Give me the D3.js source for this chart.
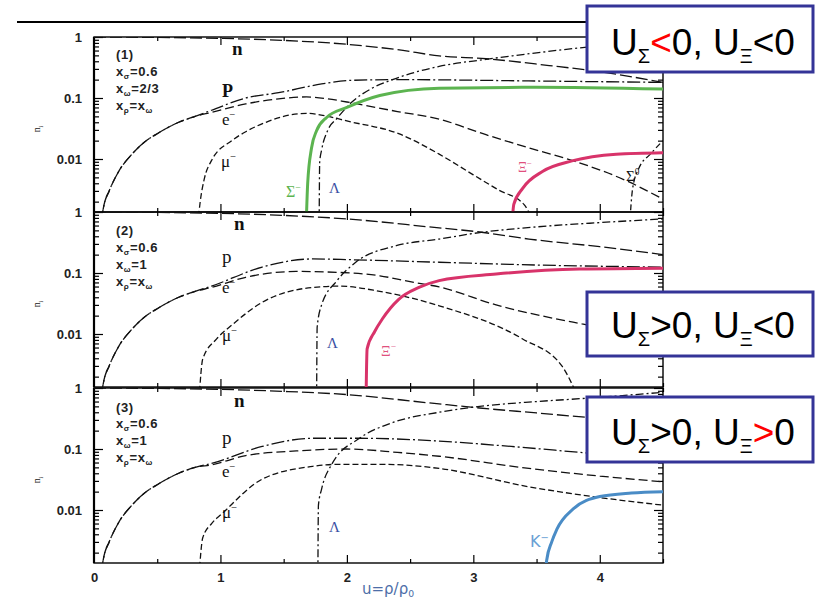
<!DOCTYPE html>
<html>
<head>
<meta charset="utf-8">
<script src="https://cdn.jsdelivr.net/npm/d3@7"></script>
<style>
  html, body { margin: 0; padding: 0; background: #fff; }
  svg { display: block; }
</style>
</head>
<body>
<svg id="chart" width="816" height="601"></svg>
<script>
// ---------- axis values ----------
const uTicks = [0, 1, 2, 3, 4];
const uHalfTicks = [0.5, 1.5, 2.5, 3.5, 4.5];
const yTickLabels = [1, 0.1, 0.01];
const uDomain = [0, 4.5];

// ---------- particle fractions n_i(u), panel (1): U_Sigma<0, U_Xi<0 ----------
const n1   = [[0,1],[0.5,0.985],[1.0,0.95],[1.5,0.88],[2.0,0.76],[2.4,0.62],[2.73,0.49],[3.1,0.44],[3.6,0.34],[4.0,0.27],[4.5,0.18]];
const p1   = [[0.055,0.0009],[0.08,0.0018],[0.12,0.003],[0.2,0.0065],[0.3,0.012],[0.4,0.019],[0.5,0.026],[0.67,0.04],[0.8,0.05],[0.93,0.063],[1.2,0.1],[1.46,0.122],[1.8,0.17],[2.04,0.195],[2.4,0.2],[3.5,0.19],[4.5,0.18]];
const e1   = [[0.055,0.0009],[0.08,0.0018],[0.12,0.003],[0.2,0.0065],[0.3,0.012],[0.4,0.019],[0.5,0.026],[0.67,0.04],[0.8,0.05],[0.93,0.058],[1.2,0.08],[1.46,0.097],[1.68,0.104],[1.85,0.097],[2.0,0.086],[2.4,0.06],[2.73,0.045],[3.1,0.025],[3.5,0.014],[3.8,0.0092],[4.2,0.0045],[4.5,0.0022]];
const mu1  = [[0.82,0.0008],[0.84,0.002],[0.87,0.0045],[0.93,0.0095],[1.09,0.02],[1.2,0.028],[1.36,0.04],[1.5,0.05],[1.68,0.056],[1.85,0.05],[2.0,0.042],[2.41,0.026],[2.73,0.012],[3.0,0.0055],[3.2,0.0031],[3.4,0.0018],[3.48,0.0009]];
const lam1 = [[1.78,0.0005],[1.785,0.009],[1.8,0.014],[1.85,0.03],[1.92,0.046],[2.04,0.086],[2.2,0.145],[2.36,0.2],[2.73,0.33],[3.1,0.43],[3.5,0.55],[3.9,0.68],[4.5,0.8]];
const sigm1 = [[1.675,0.0005],[1.69,0.004],[1.72,0.015],[1.76,0.029],[1.84,0.048],[2.0,0.07],[2.26,0.11],[2.73,0.145],[3.5,0.15],[4.5,0.14]];
const xim1 = [[3.3,0.0005],[3.32,0.0018],[3.39,0.0033],[3.55,0.0063],[3.78,0.0093],[4.13,0.012],[4.5,0.0127]];
const sig01 = [[4.23,0.0005],[4.26,0.0033],[4.31,0.0071],[4.4,0.012],[4.5,0.02]];

// ---------- panel (2): U_Sigma>0, U_Xi<0 ----------
const n2   = [[0,1],[0.5,0.985],[1.0,0.95],[1.5,0.88],[2.0,0.77],[2.65,0.57],[3.05,0.47],[3.44,0.36],[4.0,0.27],[4.5,0.2]];
const p2   = [[0.055,0.0009],[0.08,0.0018],[0.12,0.003],[0.2,0.0065],[0.3,0.012],[0.4,0.019],[0.5,0.026],[0.67,0.04],[0.8,0.05],[0.93,0.061],[1.33,0.125],[1.73,0.17],[2.04,0.165],[2.73,0.15],[3.5,0.135],[4.5,0.125]];
const e2   = [[0.055,0.0009],[0.08,0.0018],[0.12,0.003],[0.2,0.0065],[0.3,0.012],[0.4,0.019],[0.5,0.026],[0.67,0.04],[0.8,0.05],[0.93,0.058],[1.2,0.085],[1.6,0.106],[1.84,0.104],[2.26,0.09],[2.5,0.072],[2.73,0.059],[3.18,0.03],[3.86,0.0146],[4.5,0.0085]];
const mu2  = [[0.83,0.0008],[0.86,0.0039],[0.97,0.0083],[1.09,0.014],[1.33,0.033],[1.73,0.058],[1.94,0.061],[2.26,0.05],[2.73,0.029],[3.39,0.0083],[3.7,0.003],[3.83,0.0009]];
const lam2 = [[1.76,0.0005],[1.765,0.013],[1.8,0.03],[1.92,0.074],[2.07,0.15],[2.39,0.28],[2.73,0.36],[3.05,0.46],[3.5,0.57],[4.0,0.67],[4.5,0.77]];
const xim2 = [[2.15,0.0005],[2.16,0.0057],[2.22,0.011],[2.28,0.0176],[2.41,0.037],[2.57,0.058],[2.73,0.075],[3.18,0.096],[3.84,0.116],[4.5,0.12]];

// ---------- panel (3): U_Sigma>0, U_Xi>0 ----------
const n3   = [[0,1],[0.5,0.985],[1.0,0.95],[1.5,0.88],[2.0,0.78],[2.65,0.57],[3.05,0.47],[3.5,0.39],[3.9,0.33],[4.5,0.27]];
const p3   = [[0.055,0.0009],[0.08,0.0018],[0.12,0.003],[0.2,0.0065],[0.3,0.012],[0.4,0.019],[0.5,0.026],[0.67,0.04],[0.8,0.05],[0.93,0.058],[1.33,0.11],[1.73,0.15],[2.1,0.15],[2.73,0.135],[3.3,0.11],[3.9,0.086],[4.5,0.068]];
const e3   = [[0.055,0.0009],[0.08,0.0018],[0.12,0.003],[0.2,0.0065],[0.3,0.012],[0.4,0.019],[0.5,0.026],[0.67,0.04],[0.8,0.05],[0.93,0.055],[1.2,0.078],[1.6,0.093],[2.0,0.1],[2.4,0.088],[2.73,0.076],[3.44,0.048],[4.0,0.036],[4.5,0.029]];
const mu3  = [[0.83,0.0008],[0.86,0.0035],[0.93,0.006],[1.01,0.0086],[1.33,0.032],[1.73,0.052],[1.92,0.056],[2.3,0.056],[2.73,0.048],[3.44,0.024],[4.0,0.016],[4.5,0.012]];
const lam3 = [[1.77,0.0005],[1.775,0.012],[1.8,0.022],[1.88,0.056],[2.1,0.15],[2.36,0.27],[2.73,0.4],[3.05,0.5],[3.5,0.6],[3.9,0.68],[4.5,0.85]];
const km3  = [[3.56,0.0005],[3.58,0.0015],[3.62,0.003],[3.66,0.0048],[3.79,0.0104],[4.0,0.0166],[4.25,0.019],[4.5,0.02]];

// ---------- coupling ratios written in each panel ----------
const params1 = [[["(1)",0]], [["x",0],["σ",1],["=0.6",0]], [["x",0],["ω",1],["=2/3",0]], [["x",0],["ρ",1],["=x",0],["ω",1]]];
const params2 = [[["(2)",0]], [["x",0],["σ",1],["=0.6",0]], [["x",0],["ω",1],["=1",0]],   [["x",0],["ρ",1],["=x",0],["ω",1]]];
const params3 = [[["(3)",0]], [["x",0],["σ",1],["=0.6",0]], [["x",0],["ω",1],["=1",0]],   [["x",0],["ρ",1],["=x",0],["ω",1]]];

// ---------- potential-sign boxes ----------
const box1 = [["U",0],["Σ",1],["<",2],["0, U",0],["Ξ",1],["<0",0]];
const box2 = [["U",0],["Σ",1],[">",0],["0, U",0],["Ξ",1],["<0",0]];
const box3 = [["U",0],["Σ",1],[">",0],["0, U",0],["Ξ",1],[">",2],["0",0]];

// ---------- styles ----------
const BLACK = "#111";
const GREEN = "#5cb450";
const CRIMSON = "#d8336a";
const BLUE = "#4a8cc6";
const LAMBDA_BLUE = "#3a4fa3";
const BOX_BLUE = "#343497";

const dashN = "12,4", dashP = "13,3,2,3", dashE = "9,4", dashMu = "6,3", dashLam = "8,3,2,3", dashS0 = "6,3,2,3";

const panels = [
  { top: 37, params: params1, paramY: [59, 76, 93, 110],
    curves: [
      {d: n1, dash: dashN}, {d: p1, dash: dashP}, {d: e1, dash: dashE}, {d: mu1, dash: dashMu},
      {d: lam1, dash: dashLam}, {d: sig01, dash: dashS0},
      {d: sigm1, color: GREEN, w: 3}, {d: xim1, color: CRIMSON, w: 3}
    ],
    labels: [
      {t: [["n",0]], x: 232, y: 55, size: 19, bold: true},
      {t: [["P",0]], x: 222, y: 97, size: 18, bold: true},
      {t: [["e",0],["−",2]], x: 222, y: 125, size: 17},
      {t: [["μ",0],["−",2]], x: 221, y: 167, size: 17},
      {t: [["Σ",0],["−",2]], x: 286, y: 197, size: 16, color: GREEN},
      {t: [["Λ",0]], x: 329, y: 193, size: 15, color: LAMBDA_BLUE},
      {t: [["Ξ",0],["−",2]], x: 518, y: 172, size: 14, color: "#e0507e"},
      {t: [["Σ",0],["0",2]], x: 626, y: 181, size: 15}
    ]},
  { top: 212, params: params2, paramY: [235, 252, 269, 286],
    curves: [
      {d: n2, dash: dashN}, {d: p2, dash: dashP}, {d: e2, dash: dashE}, {d: mu2, dash: dashMu},
      {d: lam2, dash: dashLam},
      {d: xim2, color: CRIMSON, w: 3}
    ],
    labels: [
      {t: [["n",0]], x: 234, y: 230, size: 19, bold: true},
      {t: [["p",0]], x: 222, y: 263, size: 19},
      {t: [["e",0],["−",2]], x: 222, y: 293, size: 17},
      {t: [["μ",0],["−",2]], x: 222, y: 341, size: 17},
      {t: [["Λ",0]], x: 327, y: 348, size: 15, color: LAMBDA_BLUE},
      {t: [["Ξ",0],["−",2]], x: 381, y: 356, size: 15, color: "#e0507e"}
    ]},
  { top: 388, params: params3, paramY: [412, 428, 445, 462],
    curves: [
      {d: n3, dash: dashN}, {d: p3, dash: dashP}, {d: e3, dash: dashE}, {d: mu3, dash: dashMu},
      {d: lam3, dash: dashLam},
      {d: km3, color: BLUE, w: 3}
    ],
    labels: [
      {t: [["n",0]], x: 234, y: 407, size: 19, bold: true},
      {t: [["p",0]], x: 222, y: 444, size: 19},
      {t: [["e",0],["−",2]], x: 222, y: 477, size: 17},
      {t: [["μ",0],["−",2]], x: 222, y: 518, size: 17},
      {t: [["Λ",0]], x: 329, y: 532, size: 15, color: LAMBDA_BLUE},
      {t: [["K",0],["−",2]], x: 530, y: 547, size: 16, color: "#6a9fd4", sans: true}
    ]}
];

const boxes = [
  {parts: box1, y0: 6,   y1: 72,  base: 55},
  {parts: box2, y0: 292, y1: 356, base: 338},
  {parts: box3, y0: 397, y1: 462, base: 445}
];

// ---------- drawing ----------
const svg = d3.select("#chart");
const X0 = 94, X1 = 663, PANEL_H = 175;
const x = d3.scaleLinear().domain(uDomain).range([X0, X1]);
const vMin = Math.pow(10, -PANEL_H / 61);

// rule across the top of the page
svg.append("line").attr("x1", 17).attr("x2", 600).attr("y1", 22).attr("y2", 22)
  .attr("stroke", "#000").attr("stroke-width", 2);

function addRuns(textSel, runs, size, supShift) {
  let shift = 0;
  runs.forEach(([s, kind]) => {
    const ts = textSel.append("tspan").text(s);
    let target = 0;
    if (kind === 1) { target = supShift.sub; ts.attr("font-size", size * 0.62); }
    else if (kind === 2) { target = -supShift.sup; ts.attr("font-size", size * 0.62); }
    else { ts.attr("font-size", size); }
    ts.attr("dy", target - shift);
    shift = target;
  });
}

panels.forEach((P, i) => {
  const top = P.top, bottom = top + PANEL_H;
  const y = d3.scaleLog().domain([vMin, 1]).range([bottom, top]);
  const g = svg.append("g");

  const clipId = "clip" + i;
  svg.append("defs").append("clipPath").attr("id", clipId)
    .append("rect").attr("x", X0).attr("y", top).attr("width", X1 - X0).attr("height", PANEL_H);

  // log ticks on left and right edges (inward)
  const minor = [];
  [1, 0.1, 0.01, 0.001].forEach(dec => { for (let m = 2; m <= 9; m++) { const v = m * dec; if (v >= vMin && v < 1) minor.push(v); } });
  const major = yTickLabels;

  const tickStyle = sel => { sel.select(".domain").remove(); sel.selectAll("line").attr("stroke", "#000").attr("stroke-width", 1.2); sel.selectAll("text").remove(); };
  g.append("g").attr("transform", `translate(${X0},0)`).call(d3.axisRight(y).tickValues(major).tickSize(9)).call(tickStyle);
  g.append("g").attr("transform", `translate(${X0},0)`).call(d3.axisRight(y).tickValues(minor).tickSize(5)).call(tickStyle);
  g.append("g").attr("transform", `translate(${X1},0)`).call(d3.axisLeft(y).tickValues(major).tickSize(9)).call(tickStyle);
  g.append("g").attr("transform", `translate(${X1},0)`).call(d3.axisLeft(y).tickValues(minor).tickSize(5)).call(tickStyle);
  // density ticks on top and bottom edges (inward)
  g.append("g").attr("transform", `translate(0,${top})`).call(d3.axisBottom(x).tickValues(uTicks.slice(1)).tickSize(8)).call(tickStyle);
  g.append("g").attr("transform", `translate(0,${top})`).call(d3.axisBottom(x).tickValues(uHalfTicks).tickSize(4)).call(tickStyle);
  g.append("g").attr("transform", `translate(0,${bottom})`).call(d3.axisTop(x).tickValues(uTicks.slice(1)).tickSize(8)).call(tickStyle);
  g.append("g").attr("transform", `translate(0,${bottom})`).call(d3.axisTop(x).tickValues(uHalfTicks).tickSize(4)).call(tickStyle);

  // y tick labels
  const lab = g.append("g").attr("transform", `translate(${X0},0)`)
    .call(d3.axisLeft(y).tickValues(major).tickSize(0).tickPadding(12).tickFormat(d3.format("~g")));
  lab.select(".domain").remove();
  lab.selectAll("text").attr("font-family", "Liberation Sans, Arial, sans-serif")
    .attr("font-size", 13).attr("font-weight", "bold").attr("fill", "#222");

  // frame
  g.append("rect").attr("x", X0).attr("y", top).attr("width", X1 - X0).attr("height", PANEL_H)
    .attr("fill", "none").attr("stroke", "#000").attr("stroke-width", 1.4);
  g.append("line").attr("x1", X0).attr("x2", X0).attr("y1", top).attr("y2", bottom)
    .attr("stroke", "#000").attr("stroke-width", 2.2);

  // y-axis title n_i
  const yt = g.append("text").attr("transform", `translate(${40},${top + 92}) rotate(-90)`)
    .attr("text-anchor", "middle").attr("font-family", "Liberation Serif, serif").attr("fill", "#222");
  addRuns(yt, [["n",0],["i",1]], 10, {sub: 3, sup: 4});

  // curves
  const line = d3.line().x(d => x(d[0])).y(d => y(Math.max(d[1], 1e-5))).curve(d3.curveMonotoneX);
  const cg = g.append("g").attr("clip-path", `url(#${clipId})`);
  P.curves.forEach(c => {
    cg.append("path").attr("d", line(c.d)).attr("fill", "none")
      .attr("stroke", c.color || BLACK).attr("stroke-width", c.w || 1.3)
      .attr("stroke-dasharray", c.dash || null).attr("stroke-linecap", c.color ? "round" : "butt");
  });

  // coupling ratios
  P.params.forEach((runs, k) => {
    const t = g.append("text").attr("x", 116).attr("y", P.paramY[k])
      .attr("font-family", "Liberation Sans, Arial, sans-serif").attr("font-weight", "bold")
      .attr("letter-spacing", 0.6).attr("fill", "#222");
    addRuns(t, runs, 13, {sub: 3, sup: 5});
  });

  // particle labels
  P.labels.forEach(L => {
    const t = g.append("text").attr("x", L.x).attr("y", L.y)
      .attr("font-family", L.sans ? "DejaVu Sans, sans-serif" : "Liberation Serif, Times New Roman, serif")
      .attr("font-weight", L.bold ? "bold" : "normal").attr("fill", L.color || BLACK);
    addRuns(t, L.t, L.size, {sub: 3, sup: L.size * 0.4});
  });

  // density labels under the last panel
  if (i === panels.length - 1) {
    const xa = g.append("g").attr("transform", `translate(0,${bottom})`)
      .call(d3.axisBottom(x).tickValues(uTicks).tickSize(0).tickPadding(10).tickFormat(d3.format("d")));
    xa.select(".domain").remove();
    xa.selectAll("text").attr("font-family", "Liberation Sans, Arial, sans-serif")
      .attr("font-size", 13).attr("font-weight", "bold").attr("fill", "#222");
    const xt = g.append("text").attr("x", 362).attr("y", 594)
      .attr("font-family", "DejaVu Sans, sans-serif").attr("fill", "#4d6ea8");
    addRuns(xt, [["u=ρ/ρ",0],["0",1]], 15, {sub: 3, sup: 5});
  }
});

// potential-sign boxes
boxes.forEach(B => {
  svg.append("rect").attr("x", 587).attr("y", B.y0).attr("width", 226).attr("height", B.y1 - B.y0)
    .attr("fill", "#fff").attr("stroke", BOX_BLUE).attr("stroke-width", 3);
  const t = svg.append("text").attr("x", 703).attr("y", B.base).attr("text-anchor", "middle")
    .attr("font-family", "Liberation Sans, Arial, sans-serif").attr("fill", "#000");
  let shift = 0;
  B.parts.forEach(([s, kind]) => {
    const ts = t.append("tspan").text(s);
    const target = kind === 1 ? 8 : 0;
    ts.attr("font-size", kind === 1 ? 20 : 37).attr("dy", target - shift);
    if (kind === 2) ts.attr("fill", "#ff0000");
    shift = target;
  });
});
</script>
</body>
</html>
